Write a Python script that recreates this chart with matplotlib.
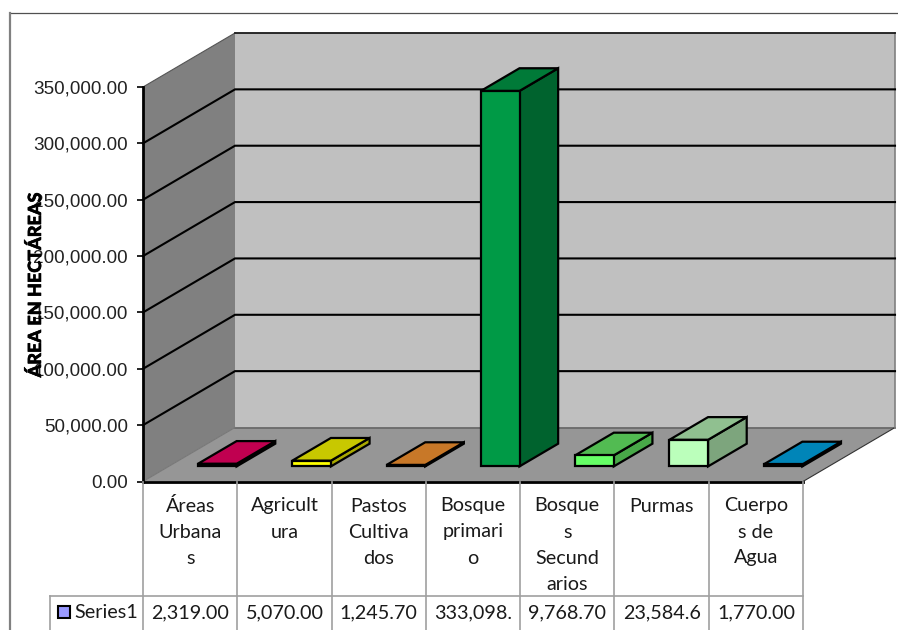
import matplotlib
matplotlib.use('Agg')
import matplotlib.pyplot as plt
import matplotlib.patheffects as pe
from matplotlib.patches import Polygon, Rectangle
from matplotlib.lines import Line2D

W, H = 898, 630

categories = ['Áreas\nUrbana\ns', 'Agricult\nura', 'Pastos\nCultiva\ndos', 'Bosque\nprimari\no',
              'Bosque\ns\nSecund\narios', 'Purmas', 'Cuerpo\ns de\nAgua']
values = [2319.00, 5070.00, 1245.70, 333098.0, 9768.70, 23584.6, 1770.00]
value_labels = ['2,319.00', '5,070.00', '1,245.70', '333,098.', '9,768.70', '23,584.6', '1,770.00']
yticks = [0, 50000, 100000, 150000, 200000, 250000, 300000, 350000]
series_name = 'Series1'
axis_title = 'ÁREA EN HECTÁREAS'

front_cols = ['#5c0026', '#ffff00', '#7a4a18', '#009a46', '#66ff66', '#bbffbb', '#00506f']
top_cols = ['#c00050', '#c8c800', '#c87828', '#007a38', '#52bb52', '#90c090', '#0085b8']
side_cols = ['#80003a', '#a8a800', '#8a5520', '#00632e', '#48a848', '#7da57d', '#005f85']

# front plane of the 3d box, in pixels
left, right, bottom, top = 143, 803, 481.5, 87
depth_x, depth_y = 92, 54
ymax = 350000

fig = plt.figure(figsize=(W / 100, H / 100), dpi=100)
ax = fig.add_axes([left / W, 1 - bottom / H, (right - left) / W, (bottom - top) / H])
ax.set_xlim(0, len(values))
ax.set_ylim(0, ymax)
ax.patch.set_visible(False)

dx_unit = depth_x / ((right - left) / len(values))
dy_unit = depth_y / ((bottom - top) / ymax)


def pr(x, y, d):
    return (x + d * dx_unit, y + d * dy_unit)


def poly(pts, fc, ec='none', lw=0, z=1):
    ax.add_patch(Polygon(pts, closed=True, fc=fc, ec=ec, lw=lw, zorder=z, clip_on=False,
                         joinstyle='miter'))


n = len(values)
# walls and floor
poly([pr(0, 0, 1), pr(n, 0, 1), pr(n, ymax, 1), pr(0, ymax, 1)], '#c0c0c0')
poly([pr(0, 0, 0), pr(0, 0, 1), pr(0, ymax, 1), pr(0, ymax, 0)], '#808080')
poly([pr(0, 0, 0), pr(n, 0, 0), pr(n, 0, 1), pr(0, 0, 1)], '#969696')
ax.plot(*zip(pr(0, 0, 1), pr(n, 0, 1)), color='#666666', lw=1.2, zorder=2, clip_on=False)
ax.plot(*zip(pr(0, 0, 0), pr(0, 0, 1)), color='#777777', lw=0.8, zorder=2, clip_on=False)
ax.plot(*zip(pr(n, 0, 0), pr(n, 0, 1)), color='#333333', lw=0.8, zorder=2, clip_on=False)
ax.plot(*zip(pr(n, 0, 1), pr(n, ymax, 1)), color='#808080', lw=1.2, zorder=2, clip_on=False)

# gridlines run up the side wall then along the back wall
for t in yticks[1:-1]:
    xs, ys = zip(pr(0, t, 0), pr(0, t, 1), pr(n, t, 1))
    ax.plot(xs, ys, color='black', lw=1.5, zorder=2, clip_on=False, solid_joinstyle='miter')
# the top one is only a thin edge on the side wall
ax.plot(*zip(pr(0, ymax, 0), pr(0, ymax, 1)), color='#555555', lw=0.8, zorder=2, clip_on=False)
ax.plot(*zip(pr(0, ymax, 1), pr(n, ymax, 1)), color='#1a1a1a', lw=1.3, zorder=2, clip_on=False)

# bars
bar_w = 0.41
bar_off = 0.015
d0, d1 = 0.28, 0.70
for i, v in enumerate(values):
    x0 = i + 0.5 + bar_off - bar_w / 2
    x1 = i + 0.5 + bar_off + bar_w / 2
    poly([pr(x1, 0, d0), pr(x1, 0, d1), pr(x1, v, d1), pr(x1, v, d0)], side_cols[i], 'black', 1.6, 3)
    poly([pr(x0, v, d0), pr(x1, v, d0), pr(x1, v, d1), pr(x0, v, d1)], top_cols[i], 'black', 1.6, 3)
    poly([pr(x0, 0, d0), pr(x1, 0, d0), pr(x1, v, d0), pr(x0, v, d0)], front_cols[i], 'black', 1.6, 3)

# axes
for s in ['top', 'right']:
    ax.spines[s].set_visible(False)
for s in ['left', 'bottom']:
    ax.spines[s].set_linewidth(2)
    ax.spines[s].set_zorder(5)
ax.set_xticks([])
ax.set_yticks(yticks)
ax.set_yticklabels(['{:,.2f}'.format(t) for t in yticks], family='Liberation Sans', fontsize=13.6,
                   color='#222222')
ax.tick_params(axis='y', length=4, width=1.2, pad=7)


def fx(px):
    return px / W


def fy(py):
    return 1 - py / H


def line(x0, y0, x1, y1, color='#a0a0a0', lw=1.2):
    fig.add_artist(Line2D([fx(x0), fx(x1)], [fy(y0), fy(y1)], color=color, lw=lw))


# outer frame of the chart
line(10, 13, W, 13, '#505050', 0.9)
line(10, 13, 10, H, '#808080', 1.6)

# data table
col_w = (right - left) / n
row_y = 596
for i in range(n + 1):
    line(left + i * col_w, bottom, left + i * col_w, H)
line(50, row_y, right, row_y)
line(50, row_y, 50, H)

font = 'Lato'
fs = 14.2
for i, (c, lab) in enumerate(zip(categories, value_labels)):
    cx = left + (i + 0.5) * col_w
    for j, part in enumerate(c.split('\n')):
        fig.text(fx(cx), fy(506 + j * 26), part, family=font, fontsize=fs, ha='center', va='center',
                 color='#1a1a1a')
    fig.text(fx(cx), fy(613), lab, family=font, fontsize=fs, ha='center', va='center', color='#1a1a1a')

fig.add_artist(Rectangle((fx(58), fy(618)), 12 / W, 12 / H, transform=fig.transFigure,
                         fc='#9999ff', ec='black', lw=1.5))
fig.text(fx(74), fy(613), series_name, family=font, fontsize=fs, ha='left', va='center', color='#1a1a1a')

title = fig.text(fx(35), fy(285), axis_title, family=font, fontsize=13, fontweight='black', rotation=90,
                 ha='center', va='center', color='black')
title.set_path_effects([pe.withStroke(linewidth=0.4, foreground='black')])

fig.savefig('out.png', dpi=100)
